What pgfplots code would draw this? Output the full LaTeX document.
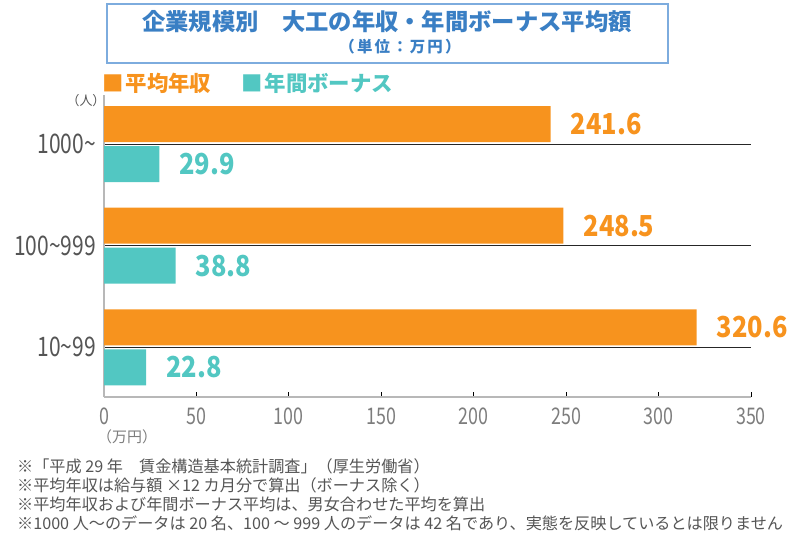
\documentclass[border=0pt]{standalone}
\usepackage{fontspec}
\setmainfont{Noto Sans CJK JP}
\newfontfamily\condfont[FakeStretch=0.78]{Noto Sans CJK JP}
\newfontfamily\valfont[FakeStretch=0.88]{Noto Sans CJK JP}
\newfontfamily\spacedfont[LetterSpace=14]{Noto Sans CJK JP}
\usepackage{pgfplots}
\pgfplotsset{compat=1.18}
\definecolor{myorange}{RGB}{247,147,30}
\definecolor{myteal}{RGB}{82,199,194}
\definecolor{titleblue}{RGB}{58,127,196}
\definecolor{boxblue}{RGB}{125,172,222}
\definecolor{txtgray}{RGB}{85,85,85}
\definecolor{tickgray}{RGB}{125,125,125}
\pgfplotstableread{
y val
0 320.6
1 248.5
2 241.6
}\salary
\pgfplotstableread{
y val
0 22.8
1 38.8
2 29.9
}\bonus
\begin{document}
\begin{tikzpicture}
\path[use as bounding box] (0bp,0bp) rectangle (800bp,-533bp);
\begin{axis}[
  at={(104bp,-397bp)}, anchor=south west,
  scale only axis, width=647bp, height=302bp,
  xbar, bar width=36bp,
  xmin=0, xmax=350, ymin=-0.49, ymax=2.485,
  enlargelimits=false,
  axis x line*=bottom, axis y line*=left,
  axis line style={draw=black!28, line width=1.3bp},
  xtick={0,50,...,350},
  ytick={0,1,2},
  yticklabels={10\textasciitilde99,100\textasciitilde999,1000\textasciitilde},
  tick align=inside,
  x tick style={black, line width=0.8bp},
  major tick length=5bp,
  y tick style={draw=none},
  /pgf/number format/assume math mode=true,
  xticklabel style={font=\condfont\fontsize{23}{23}\selectfont, text=tickgray, inner sep=0pt, anchor=north, yshift=-11bp},
  yticklabel style={font=\condfont\fontsize{27}{27}\selectfont, text=txtgray, inner sep=0pt, anchor=east, xshift=-8bp},
  ymajorgrids, grid style={black!85, line width=1.1bp},
  nodes near coords={\pgfmathprintnumber[fixed,precision=1,fixed zerofill]{\pgfplotspointmeta}},
  nodes near coords style={font=\valfont\bfseries\fontsize{29}{29}\selectfont, inner sep=0pt, anchor=west, xshift=20bp},
  point meta=x,
  clip=false,
]
\addplot[fill=myorange, draw=none, bar shift=20bp, nodes near coords style={text=myorange}] table[x=val,y=y] {\salary};
\addplot[fill=myteal, draw=none, bar shift=-20bp, nodes near coords style={text=myteal}] table[x=val,y=y] {\bonus};
\end{axis}
\begin{scope}[x=1bp,y=-1bp]
\draw[boxblue, line width=1.5bp] (107,4) rectangle (668,63);
\node[text=titleblue, font=\bfseries\fontsize{23.4}{23.4}\selectfont] at (387,22) {企業規模別\hspace{1em}大工の年収・年間ボーナス平均額};
\node[text=titleblue, font=\spacedfont\bfseries\fontsize{15.5}{15.5}\selectfont] at (400,47) {（単位：万円）};
\node[anchor=west, inner sep=0pt, font=\bfseries\fontsize{21.5}{21.5}\selectfont, text=myorange] at (102,83) {■\hspace{2bp}平均年収};
\node[anchor=west, inner sep=0pt, font=\bfseries\fontsize{21.5}{21.5}\selectfont, text=myteal] at (241,83) {■\hspace{2bp}年間ボーナス};
\node[text=txtgray, font=\fontsize{13}{13}\selectfont, inner sep=0pt] at (86,101) {（人）};
\node[anchor=west, text=tickgray, font=\fontsize{15}{15}\selectfont, inner sep=0pt] at (97,437) {（万円）};
\begin{scope}[every node/.style={anchor=west, inner sep=0pt, text=txtgray, font=\fontsize{16.2}{16.2}\selectfont}]
\node at (17,466) {※「平成 29 年　賃金構造基本統計調査」（厚生労働省）};
\node at (17,485) {※平均年収は給与額 ×12 カ月分で算出（ボーナス除く）};
\node at (17,504) {※平均年収および年間ボーナス平均は、男女合わせた平均を算出};
\node at (17,523) {※1000 人～のデータは 20 名、100 ～ 999 人のデータは 42 名であり、実態を反映しているとは限りません};
\end{scope}
\end{scope}
\end{tikzpicture}
\end{document}
